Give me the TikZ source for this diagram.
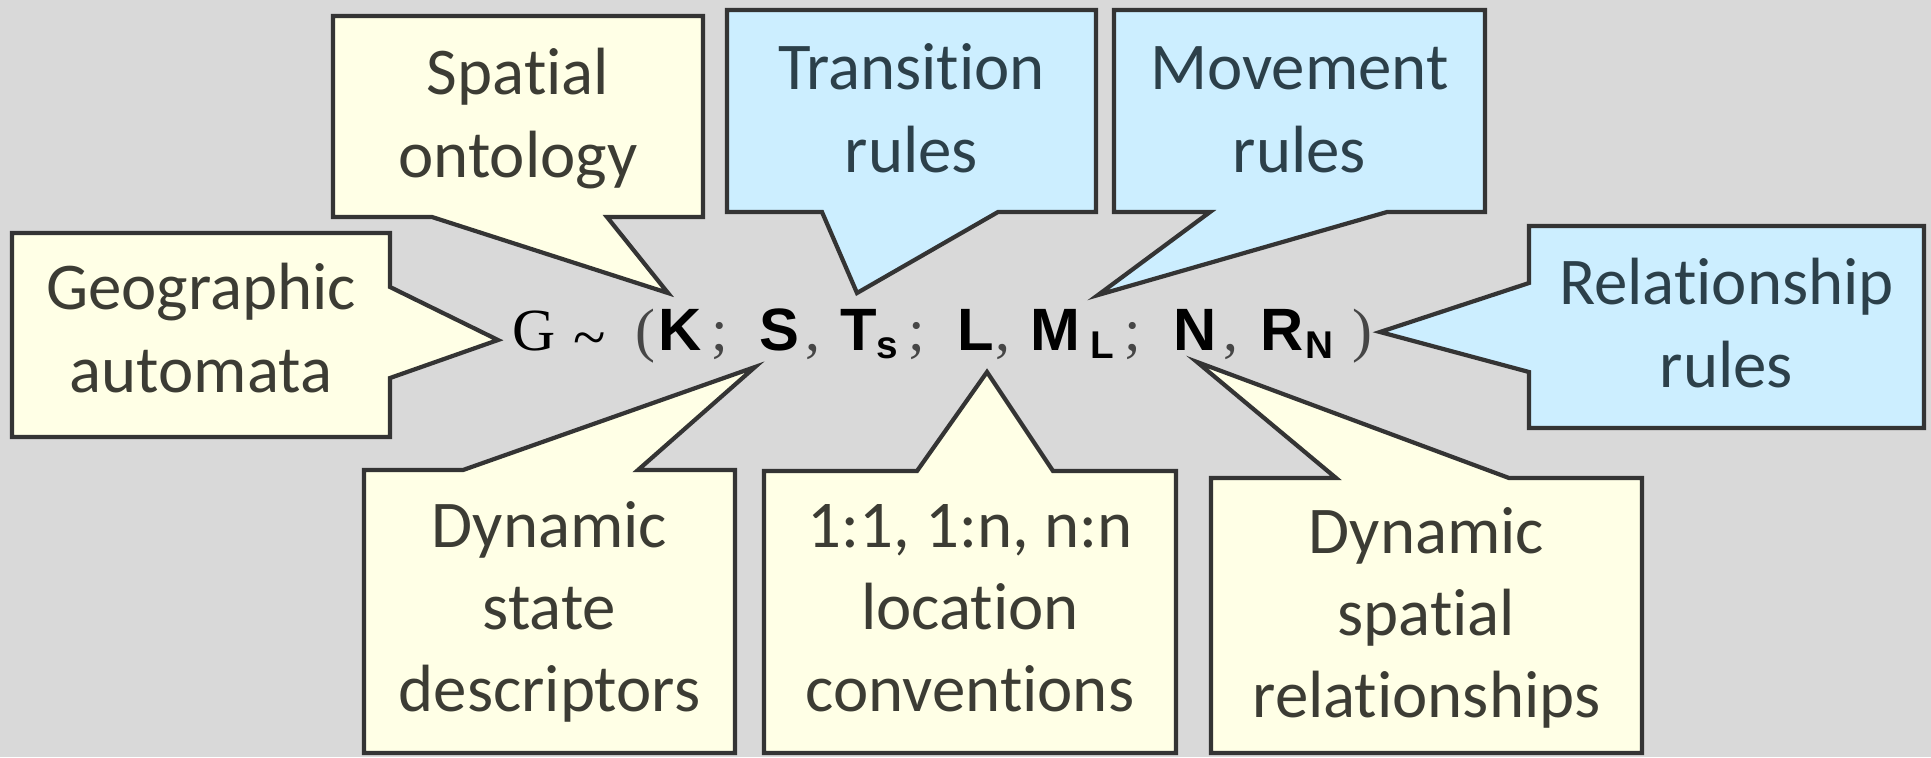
\documentclass[tikz,border=0pt]{standalone}
\usepackage{fontspec}
\setmainfont{Carlito}[Ligatures={NoCommon,NoContextual,NoRequired}]
\newfontfamily\serfont{Liberation Serif}
\newfontfamily\arfont{Liberation Sans}
\newlength\pxu \setlength\pxu{0.01cm}
\newcommand\gb[2]{\makebox[#1\pxu][l]{#2}}
\newcommand\bs[1]{{\arfont\bfseries #1}}
\newcommand\sbx[1]{\raisebox{-2.4pt}{\arfont\bfseries\fontsize{11}{13}\selectfont #1}}
\newcommand\pc[1]{{\color{punc}#1}}
\newcommand\tI{t\kern0pt i}
\definecolor{bggray}{RGB}{217,217,217}
\definecolor{cream}{RGB}{255,255,230}
\definecolor{skyb}{RGB}{204,238,255}
\definecolor{edgec}{RGB}{52,52,52}
\definecolor{ytext}{RGB}{60,60,52}
\definecolor{btext}{RGB}{44,64,74}
\definecolor{punc}{RGB}{70,70,70}
\tikzset{
  callout/.style={draw=edgec, line width=1.2pt},
  ycall/.style={callout, fill=cream},
  bcall/.style={callout, fill=skyb},
  lbl/.style={align=center, font=\fontsize{19}{23.34}\selectfont, inner sep=0pt},
  ylbl/.style={lbl, text=ytext},
  blbl/.style={lbl, text=btext},
}
\begin{document}
\begin{tikzpicture}[x=0.01cm,y=-0.01cm]
\useasboundingbox (0,0) rectangle (1931,757);
\fill[bggray] (0,0) rectangle (1931,757);

% tips of the callouts
\coordinate (tipGeo) at (498,340);
\coordinate (tipSpa) at (668,293);
\coordinate (tipTra) at (857,293);
\coordinate (tipMov) at (1098,295);
\coordinate (tipRel) at (1380,332);
\coordinate (tipDst) at (755,367);
\coordinate (tipLoc) at (987,372);
\coordinate (tipDsp) at (1197,362);

% callout shapes
\draw[ycall] (333,16) -- (703,16) -- (703,217) -- (607,217) -- (tipSpa) -- (432,217) -- (333,217) -- cycle;
\draw[bcall] (727,10) -- (1096,10) -- (1096,212) -- (998,212) -- (tipTra) -- (822,212) -- (727,212) -- cycle;
\draw[bcall] (1114,10) -- (1485,10) -- (1485,212) -- (1387,212) -- (tipMov) -- (1210,212) -- (1114,212) -- cycle;
\draw[ycall] (12,233) -- (390,233) -- (390,287) -- (tipGeo) -- (390,378) -- (390,437) -- (12,437) -- cycle;
\draw[bcall] (1529,226) -- (1924,226) -- (1924,428) -- (1529,428) -- (1529,372) -- (tipRel) -- (1529,283) -- cycle;
\draw[ycall] (364,470) -- (463,470) -- (tipDst) -- (638,470) -- (735,470) -- (735,753) -- (364,753) -- cycle;
\draw[ycall] (764,471) -- (917,471) -- (tipLoc) -- (1053,471) -- (1176,471) -- (1176,753) -- (764,753) -- cycle;
\draw[ycall] (1211,478) -- (1336,478) -- (tipDsp) -- (1509,478) -- (1642,478) -- (1642,753) -- (1211,753) -- cycle;

% labels
\node[ylbl] (spa) at (518,119.6) {\strut Spa\tI al\\\strut ontology};
\node[blbl] (tra) at (911.5,114.6) {\strut Transi\tI on\\\strut rules};
\node[blbl] (mov) at (1299.5,114.6) {\strut Movement\\\strut rules};
\node[ylbl] (geo) at (201,334.6) {\strut Geographic\\\strut automata};
\node[blbl] (rel) at (1726.5,329.6) {\strut Rela\tI onship\\\strut rules};
\node[ylbl] (dst) at (549.5,613.3) {\strut Dynamic\\state\\\strut descriptors};
\node[ylbl] (loc) at (970,613.3) {\strut 1:1, 1:n, n:n\\loca\tI on\\\strut conven\tI ons};
\node[ylbl] (dsp) at (1426.5,619.3) {\strut Dynamic\\spa\tI al\\\strut rela\tI onships};

% formula
\node[anchor=base west, inner sep=0pt, font=\serfont\fontsize{17}{20}\selectfont] (formula) at (512,350)
{\gb{61}{G}\gb{62}{\raisebox{-0.12em}{\textasciitilde}}\gb{23}{\pc{(}}\gb{53}{\bs{K}}\gb{48}{\pc{;}}\gb{46}{\bs{S}}\gb{35}{\pc{,}}\gb{36}{\bs{T}}\gb{32}{\sbx{s}}\gb{49}{\pc{;}}\gb{38}{\bs{L}}\gb{35}{\pc{,}}\gb{60}{\bs{M}}\gb{34}{\sbx{L}}\gb{49}{\pc{;}}\gb{50}{\bs{N}}\gb{37}{\pc{,}}\gb{45}{\bs{R}}\gb{47}{\sbx{N}}\pc{)}};
\end{tikzpicture}
\end{document}
